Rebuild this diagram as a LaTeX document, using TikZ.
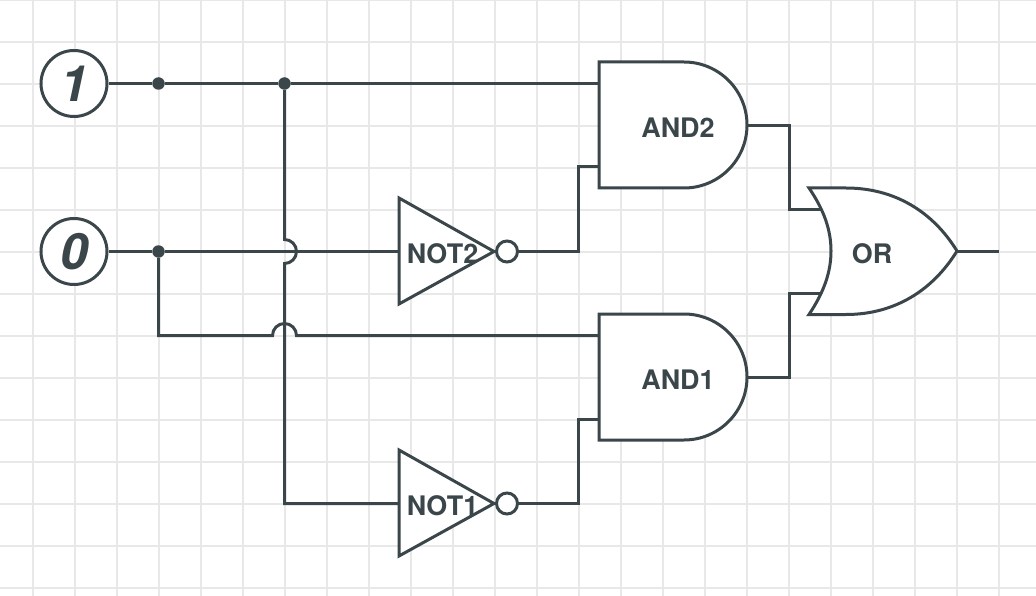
\documentclass[tikz,border=0pt]{standalone}
\usepackage{fontspec}
\setmainfont{TeX Gyre Heros}
\definecolor{ink}{HTML}{3B464B}
\definecolor{gridc}{HTML}{E8E8E8}
\tikzset{
  wire/.style={draw=ink,line width=3pt,line join=miter},
  gate/.style={draw=ink,fill=white,line width=3pt,line join=miter},
  gatetext/.style={text=ink,font=\fontsize{26.9}{30}\selectfont\bfseries,inner sep=0pt},
  innode/.style={circle,draw=ink,fill=white,line width=3pt,minimum size=66pt,inner sep=0pt,text=ink,font=\fontsize{50}{54}\selectfont\bfseries\itshape},
  bubble/.style={circle,draw=ink,fill=white,line width=3pt,minimum size=21pt,inner sep=0pt},
  junction/.style={circle,fill=ink,minimum size=12.5pt,inner sep=0pt},
  gridline/.style={draw=gridc,line width=1.5pt}
}
\begin{document}
\begin{tikzpicture}[x=1pt,y=-1pt]
\useasboundingbox (0,0) rectangle (1036,596);
\fill[white] (0,0) rectangle (1036,596);
% grid
\foreach \gx in {33,75,...,1035} \draw[gridline] (\gx,0) -- (\gx,596);
\foreach \gy in {0,42,...,590} \draw[gridline] (0,\gy) -- (1036,\gy);
% pin and bend coordinates
\coordinate (and2a) at (599,83.5);
\coordinate (and2b) at (599,167);
\coordinate (and2o) at (747,125.5);
\coordinate (and1a) at (599,335.5);
\coordinate (and1b) at (599,419);
\coordinate (and1o) at (747,377.5);
\coordinate (ora) at (821,209.5);
\coordinate (orb) at (821,293.5);
\coordinate (oro) at (957,251.5);
\coordinate (orend) at (999,251.5);
\coordinate (not2i) at (399,251.5);
\coordinate (not1i) at (399,503.5);
\coordinate (hopAin) at (284.5,239.5);
\coordinate (hopAout) at (284.5,263.5);
\coordinate (hopBin) at (272.5,335.5);
\coordinate (hopBout) at (296.5,335.5);
\coordinate (hopBcorner) at (158.5,335.5);
\coordinate (not1corner) at (284.5,503.5);
% junctions
\node[junction] (j1) at (158.5,83.5) {};
\node[junction] (j2) at (284.5,83.5) {};
\node[junction] (j3) at (158.5,251.5) {};
% input terminals
\node[innode] (in1) at (74,83.5) {1};
\node[innode] (in0) at (74,251.5) {0};
% bubbles
\node[bubble] (b2) at (507,251.5) {};
\node[bubble] (b1) at (507,503.5) {};
% wires
\draw[wire] (in1) -- (j1) -- (j2) -- (and2a);
\draw[wire] (in0) -- (j3) -- (not2i);
\draw[wire] (j2) -- (hopAin) arc[start angle=90,end angle=-90,radius=12pt] -- (not1corner) -- (not1i);
\draw[wire] (j3) -- (hopBcorner) -- (hopBin) arc[start angle=180,end angle=0,radius=12pt] -- (hopBout) -- (and1a);
\draw[wire] (b2) -| (578.5,167) -- (and2b);
\draw[wire] (b1) -| (578.5,419) -- (and1b);
\draw[wire] (and2o) -| (789,209.5) -- (ora);
\draw[wire] (and1o) -| (789,293.5) -- (orb);
\draw[wire] (oro) -- (orend);
% gates
\draw[gate] (599,62) -- (684,62) arc[start angle=90,end angle=-90,radius=63pt] -- (599,188) -- cycle;
\draw[gate] (599,314) -- (684,314) arc[start angle=90,end angle=-90,radius=63pt] -- (599,440) -- cycle;
\draw[gate] (399,198) -- (494,251.5) -- (399,304) -- cycle;
\draw[gate] (399,450) -- (494,503.5) -- (399,556) -- cycle;
\draw[gate] (809,188) -- (846,188) .. controls (895,188) and (933,212) .. (957,251)
  .. controls (933,290) and (895,314.5) .. (846,314.5) -- (809,314.5)
  .. controls (824,292) and (831,272) .. (831,251) .. controls (831,230) and (824,210) .. (809,188) -- cycle;
% labels
\node[gatetext] (and2) at (678,128) {AND2};
\node[gatetext] (and1) at (678,380) {AND1};
\node[gatetext] (not2) at (442.5,254) {NOT2};
\node[gatetext] (not1) at (442.5,506) {NOT1};
\node[gatetext] (or) at (872,254) {OR};
\end{tikzpicture}
\end{document}
